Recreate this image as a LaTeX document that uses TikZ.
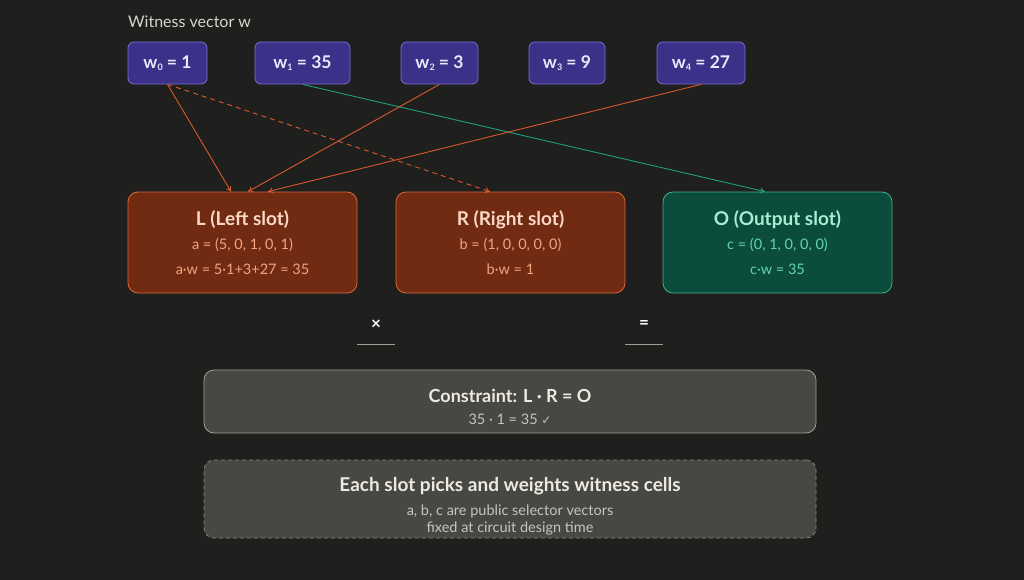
\documentclass[tikz,border=0pt]{standalone}
\usepackage{fontspec}
\setmainfont{Lato}
\newfontfamily\symfont{DejaVu Sans}
\usetikzlibrary{arrows.meta,calc}
\definecolor{bg}{HTML}{1F1F1E}
\definecolor{wfill}{HTML}{3C3189}
\definecolor{wdraw}{HTML}{7B6FD6}
\definecolor{wtext}{HTML}{ECE8FA}
\definecolor{lfill}{HTML}{712B13}
\definecolor{ldraw}{HTML}{D9683C}
\definecolor{ltitle}{HTML}{FBD8C6}
\definecolor{lbody}{HTML}{F4A47E}
\definecolor{ofill}{HTML}{0B4C3C}
\definecolor{odraw}{HTML}{3FB58D}
\definecolor{otitle}{HTML}{A8EDD2}
\definecolor{obody}{HTML}{62D6AA}
\definecolor{orng}{HTML}{D9592B}
\definecolor{grn}{HTML}{1EA07A}
\definecolor{cfill}{HTML}{474743}
\definecolor{cdraw}{HTML}{A09F98}
\definecolor{ctext}{HTML}{EEEAE0}
\definecolor{csub}{HTML}{C8C4BC}
\definecolor{lbl}{HTML}{D8D4CC}
\newcommand{\sub}[1]{\raisebox{-0.25ex}{\fontsize{9}{9}\selectfont #1}}
\tikzset{
  wbox/.style={draw=wdraw, fill=wfill, rounded corners=6pt, line width=0.8pt, minimum height=42pt, inner sep=0pt, text=wtext, font=\fontsize{17.5}{20}\selectfont\bfseries},
  slotbox/.style={rounded corners=10pt, line width=0.8pt, minimum width=229pt, minimum height=101pt, inner sep=0pt, align=center},
  lbox/.style={slotbox, draw=ldraw, fill=lfill, text=lbody},
  obox/.style={slotbox, draw=odraw, fill=ofill, text=obody},
  cbox/.style={draw=cdraw, fill=cfill, rounded corners=10pt, line width=0.8pt, minimum width=612pt, inner sep=0pt},
  conn/.style={line width=0.9pt, -{To[length=5pt,width=6pt]}},
  optxt/.style={text=white, font=\fontsize{17}{18}\selectfont\bfseries},
  uline/.style={draw=cdraw, line width=1pt},
  ttl/.style={font=\fontsize{19}{22}\selectfont\bfseries},
  bdy/.style={font=\fontsize{14.5}{16}\selectfont},
}
\begin{document}
\begin{tikzpicture}[x=1pt,y=-1pt]
\fill[bg] (0,0) rectangle (1024,580);
\useasboundingbox (0,0) rectangle (1024,580);

\node[anchor=west, text=lbl, font=\fontsize{16}{18}\selectfont, inner sep=0pt] (title) at (128,22) {Witness vector w};

\node[wbox, minimum width=79pt] (w0) at (167.5,63) {w\sub{0} = 1};
\node[wbox, minimum width=95pt] (w1) at (302.5,63) {w\sub{1} = 35};
\node[wbox, minimum width=77pt] (w2) at (439.5,63) {w\sub{2} = 3};
\node[wbox, minimum width=76pt] (w3) at (567,63) {w\sub{3} = 9};
\node[wbox, minimum width=88pt] (w4) at (701,63) {w\sub{4} = 27};

\node[lbox] (L) at (242.5,242.5) {};
\node[lbox] (R) at (510.5,242.5) {};
\node[obox] (O) at (777.5,242.5) {};

\node[text=ltitle, ttl] (Lt) at (242.5,220) {L (Left slot)};
\node[text=lbody, bdy] (La) at (242.5,245) {a = (5, 0, 1, 0, 1)};
\node[text=lbody, bdy] (Lb) at (242.5,269) {a·w = 5·1+3+27 = 35};

\node[text=ltitle, ttl] (Rt) at (510.5,220) {R (Right slot)};
\node[text=lbody, bdy] (Ra) at (510.5,245) {b = (1, 0, 0, 0, 0)};
\node[text=lbody, bdy] (Rb) at (510.5,269) {b·w = 1};

\node[text=otitle, ttl] (Ot) at (777.5,220) {O (Output slot)};
\node[text=obody, bdy] (Oa) at (777.5,245) {c = (0, 1, 0, 0, 0)};
\node[text=obody, bdy] (Ob) at (777.5,269) {c·w = 35};

\draw[conn, orng] (w0.south) -- ([xshift=-11.5pt]L.north);
\draw[conn, orng, dashed, dash pattern=on 5pt off 4pt] (w0.south) -- ([xshift=-20.5pt]R.north);
\draw[conn, grn] (w1.south) -- ([xshift=-12.5pt]O.north);
\draw[conn, orng] (w2.south) -- ([xshift=5.5pt]L.north);
\draw[conn, orng] (w4.south) -- ([xshift=25.5pt]L.north);

\node[optxt] (times) at (376,325) {×};
\node[optxt] (eq) at (644,325) {=};
\coordinate (t1) at (357,344); \coordinate (t2) at (395,344);
\coordinate (e1) at (625,344); \coordinate (e2) at (663,344);
\draw[uline] (t1) -- (t2);
\draw[uline] (e1) -- (e2);

\node[cbox, minimum height=63pt] (C) at (510,401.5) {};
\node[text=ctext, font=\fontsize{18}{20}\selectfont\bfseries] (Ct) at (510,396) {Constraint: L · R = O};
\node[text=csub, bdy] (Cs) at (510,419) {35 · 1 = 35 {\symfont\fontsize{12}{14}\selectfont ✓}};

\node[cbox, draw=cdraw!80!bg, dashed, dash pattern=on 4pt off 3pt, minimum height=78pt] (N) at (510,499) {};
\node[text=ctext, ttl] (Nt) at (510,486) {Each slot picks and weights witness cells};
\node[text=csub, bdy] (N1) at (510,511) {a, b, c are public selector vectors};
\node[text=csub, bdy] (N2) at (510,528) {fixed at circuit design time};
\end{tikzpicture}
\end{document}
